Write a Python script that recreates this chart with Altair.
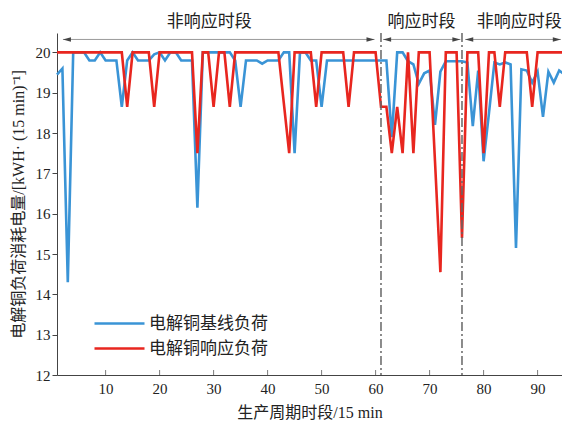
import altair as alt
import pandas as pd

periods = list(range(1, 97))

baseline = [19.45, 19.6, 14.3, 20, 20, 20, 19.8, 19.8, 20, 19.8,
            19.8, 19.8, 18.65, 19.8, 20, 19.8, 19.8, 19.8, 19.95, 20,
            19.8, 20, 20, 19.8, 19.8, 19.8, 16.15, 20, 20, 20,
            20, 20, 20, 19.8, 18.65, 19.8, 19.8, 19.8, 19.72, 19.8,
            19.8, 19.8, 20, 20, 17.5, 20, 20, 19.8, 19.8, 18.65,
            19.8, 19.8, 19.8, 19.8, 19.8, 19.8, 19.8, 19.8, 19.8, 19.8,
            19.8, 19.8, 17.9, 20, 20, 19.78, 19.7, 19.22, 19.48, 19.55,
            18.2, 19.52, 19.78, 19.78, 19.78, 19.78, 19.75, 18.17, 19.55, 17.3,
            18.5, 19.75, 19.7, 19.75, 19.7, 15.15, 19.58, 19.55, 19.25, 19.52,
            18.4, 19.52, 19.25, 19.55, 19.45, 19.6]

response = [20, 20, 20, 20, 20, 20, 20, 20, 20, 20,
            20, 20, 20, 18.65, 20, 20, 20, 20, 18.65, 20,
            20, 20, 20, 20, 20, 20, 17.5, 20, 20, 18.65,
            20, 20, 18.65, 20, 20, 20, 20, 20, 20, 20,
            20, 20, 18.75, 17.5, 20, 20, 20, 20, 18.65, 20,
            20, 20, 20, 20, 18.65, 20, 20, 20, 20, 20,
            18.65, 18.65, 17.5, 18.65, 17.5, 20, 17.5, 20, 20, 20,
            17.3, 14.55, 20, 20, 20, 15.4, 20, 20, 20, 17.5,
            20, 20, 18.65, 20, 20, 20, 20, 20, 18.65, 20,
            20, 20, 20, 20, 20, 18.65]

series_names = ["电解铜基线负荷", "电解铜响应负荷"]
series_colors = ["#3a94d6", "#e8261f"]

x_ticks = [10, 20, 30, 40, 50, 60, 70, 80, 90]
y_ticks = [12, 13, 14, 15, 16, 17, 18, 19, 20]

divider_periods = [61, 76]
segment_labels = ["非响应时段", "响应时段", "非响应时段"]
segment_centers = [29.2, 68.5, 86.6]
segment_label_level = 20.75
arrow_starts = [2.1, 61.4, 76.6]
arrow_ends = [59.8, 75.7, 94.3]
arrow_level = 20.32

df = pd.DataFrame({
    "period": periods * 2,
    "load": baseline + response,
    "series": [series_names[0]] * len(periods) + [series_names[1]] * len(periods),
})

cjk = "Liberation Serif, Noto Sans CJK SC"

# the window cuts the plot off just before the last period, as in the reference
x_scale = alt.Scale(domain=[1, 94.52], nice=False, zero=False)
y_scale = alt.Scale(domain=[12, 20.48], nice=False, zero=False)

x_enc = alt.X("period:Q", scale=x_scale,
              axis=alt.Axis(values=x_ticks, ticks=False, labelPadding=6,
                            title="生产周期时段/15 min", titlePadding=8))
y_enc = alt.Y("load:Q", scale=y_scale,
              axis=alt.Axis(values=y_ticks, tickSize=5, labelPadding=2,
                            title="电解铜负荷消耗电量/[kWH· (15 min)⁻¹]",
                            titlePadding=9))
color_enc = alt.Color("series:N",
                      scale=alt.Scale(domain=series_names, range=series_colors),
                      legend=alt.Legend(orient="none", legendX=51, legendY=279,
                                        title=None, symbolType="M -2.5 0 H 2.5",
                                        symbolSize=400, symbolStrokeWidth=2.6,
                                        labelFont="Noto Sans CJK SC",
                                        labelFontSize=17, labelOffset=18,
                                        labelColor="#222", rowPadding=5))

base = alt.Chart(df)
blue_line = base.transform_filter(alt.datum.series == series_names[0]).mark_line(
    strokeWidth=2.6).encode(x=x_enc, y=y_enc, color=color_enc)
red_line = base.transform_filter(alt.datum.series == series_names[1]).mark_line(
    strokeWidth=2.6).encode(x=x_enc, y=y_enc, color=color_enc)

x_tick_marks = alt.Chart(pd.DataFrame({"t": x_ticks})).mark_tick(
    orient="vertical", size=5, thickness=1, color="#444", yOffset=-2.5).encode(
    x=alt.X("t:Q", scale=x_scale), y=alt.datum(12))

dividers = alt.Chart(pd.DataFrame({"t": divider_periods})).mark_rule(
    color="#666", strokeWidth=1.5, strokeDash=[9, 3, 2, 3]).encode(
    x=alt.X("t:Q", scale=x_scale))

arrows_df = pd.DataFrame({"a": arrow_starts, "b": arrow_ends})
arrow_lines = alt.Chart(arrows_df).mark_rule(color="#999", strokeWidth=1).encode(
    x=alt.X("a:Q", scale=x_scale), x2="b:Q", y=alt.datum(arrow_level))
left_heads = alt.Chart(arrows_df).mark_point(
    shape="M -1 0 L 1 -0.55 L 1 0.55 Z", filled=True, size=64, color="#444",
    opacity=1, xOffset=4).encode(x=alt.X("a:Q", scale=x_scale), y=alt.datum(arrow_level))
right_heads = alt.Chart(arrows_df).mark_point(
    shape="M 1 0 L -1 -0.55 L -1 0.55 Z", filled=True, size=64, color="#444",
    opacity=1, xOffset=-4).encode(x=alt.X("b:Q", scale=x_scale), y=alt.datum(arrow_level))

labels = alt.Chart(pd.DataFrame({"c": segment_centers, "label": segment_labels})).mark_text(
    font="Noto Sans CJK SC", fontSize=17, color="#222", baseline="middle").encode(
    x=alt.X("c:Q", scale=x_scale), y=alt.datum(segment_label_level), text="label:N")

chart = alt.layer(blue_line, red_line, x_tick_marks, dividers, arrow_lines,
                  left_heads, right_heads, labels).properties(
    width=505, height=342,
    autosize=alt.AutoSizeParams(type="none"),
    padding={"left": 49, "top": 25, "right": 0, "bottom": 47},
).configure_view(stroke=None).configure_axis(
    grid=False, domainColor="#444", tickColor="#444",
    labelFont="Liberation Serif", labelFontSize=15, labelColor="#222",
    titleFont=cjk, titleFontSize=16, titleFontWeight="normal", titleColor="#222",
)

chart.save("out.html", embed_options={"renderer": "svg", "actions": False})
